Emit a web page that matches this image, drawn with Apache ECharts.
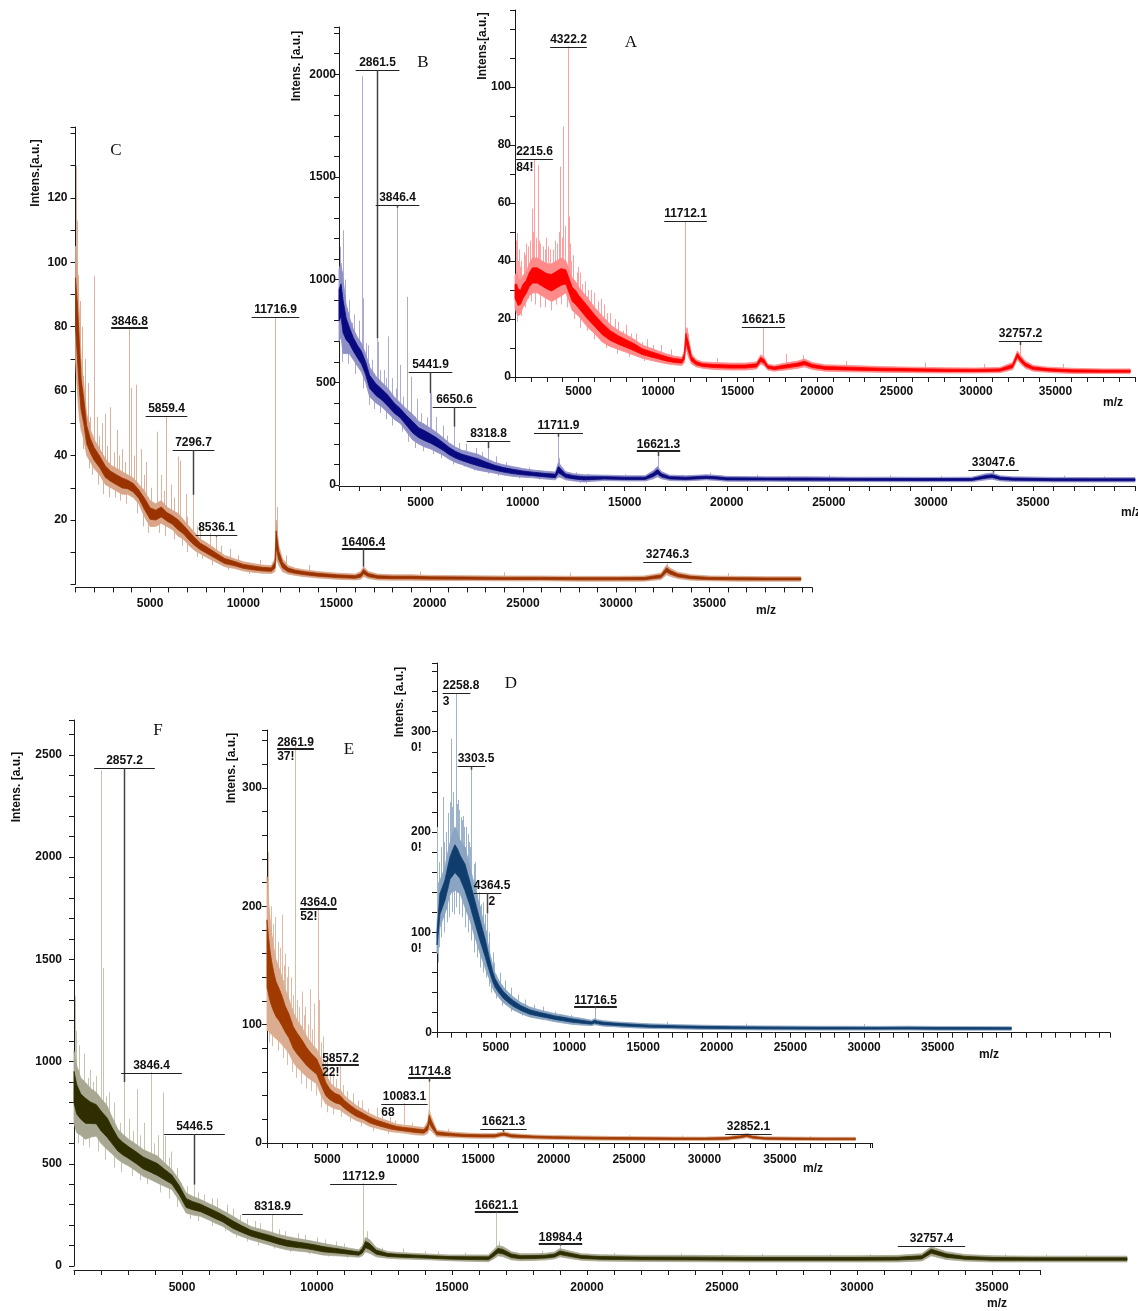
<!DOCTYPE html>
<html><head><meta charset="utf-8">
<script src="https://cdn.jsdelivr.net/npm/echarts@6/dist/echarts.min.js"></script>
<style>html,body{margin:0;padding:0;background:#fff}#chart{width:1138px;height:1311px}</style>
</head><body><div id="chart"></div><script>
// ---------------- DATA ----------------
// Panel C
const mzC = [1000,1100,1200,1300,1450,1600,1800,2000,2300,2600,2900,3200,3500,3800,4100,4400,4700,5000,5300,5600,5900,6200,6500,6800,7100,7400,7700,8000,8500,9000,9500,10000,10500,11000,11500,11700,11760,11900,12100,12400,12800,13300,14000,15000,16000,16300,16450,16700,17200,18000,19000,20000,22000,24000,26000,28000,30000,31500,32400,32700,32900,33300,34000,35000,36500,38000,39900];
const loC = [70,60,52,48,45,40,38,36,34,31,30,29,28,28,27,25,21,18,18,19,18,17,15,14,12,10.5,9.5,8.5,7,5.5,5,4.2,3.8,3.5,3.4,4,8,6,4,3.2,2.8,2.4,2,1.6,1.4,1.6,2.5,1.8,1.4,1.3,1.3,1.2,1.2,1.1,1.1,1,1,1,1.5,3,2.5,1.8,1.3,1.1,1,1,1];
const hiC = [105,98,85,70,62,53,48,45,42,39,37,36,35,34,33,31,29,26,25,26,24,23,22,20,18,16,14,13,11,9,8,7,6.5,6,5.8,8,20,12,8,5.8,5,4.5,4,3.5,3.2,4,5.5,4,3.2,3,3,2.8,2.7,2.6,2.6,2.5,2.5,2.6,3.5,6,5,3.8,3,2.6,2.5,2.4,2.4];
const spikesC = [[1030,130],[1060,113],[1090,104],[1150,96],[1250,88],[1365,80],[1500,70],[1680,62.5],[1993,95.7],[2150,52],[2400,50],[2580,53],[2850,55],[3245,48],[3500,42],[3846.8,80],[3880,57],[4000,61],[4250,62],[4500,42],[4800,38],[5390,47.4],[5600,34],[5859.4,52],[6100,31],[6520,39.7],[6620,38.4],[6900,28],[7296.7,27.8],[7700,19],[8200,16],[8536.1,14.8],[9300,11],[10900,7.6],[11716.9,83],[11800,24],[12300,9],[13500,6],[16406.4,5.5],[19500,4],[24000,3.8],[27500,3.6],[32746.3,6.5],[36000,3.5],
  [1800,52],[2250,46],[2700,43],[3050,41],[3350,40],[3650,38],[4150,40],[4650,34],[5050,30],[5750,29],[6300,27],[7000,21],[7500,18],[8800,12],[9700,9]];
const dipsC = [[1150,55],[1400,42],[1700,36],[1900,34],[2200,31],[2500,28],[2800,27],[3100,27],[3400,26],[3700,25],[4300,22],[4600,18],[4900,16],[5500,16],[5800,15],[6300,14],[6700,12],[7000,10],[7500,8.5],[7800,8],[8300,6],[9200,4.5],[10300,3.2]];
const annTextC = ['3846.8','5859.4','7296.7','8536.1','11716.9','16406.4','32746.3'];
const annPeakC = [80,52,27.8,14.8,83,5.5,6.5];
const annLevelC = [80,52.3,41.7,15.3,83,11.3,7];
const annSubC = ['','','','','','',''];

// Panel B
const mzB = [1000,1100,1200,1350,1500,1700,1900,2100,2300,2500,2800,3100,3400,3700,4000,4300,4600,4900,5200,5500,5800,6100,6400,6700,7000,7400,7800,8200,8600,9000,9500,10000,10500,11000,11600,11750,11900,12100,12500,13000,14000,15000,16000,16400,16600,16800,17200,18000,19000,19500,20000,22000,24000,26000,28000,30000,32000,32700,33000,33400,34000,36000,38000,40000];
const loB = [700,720,640,640,640,610,580,550,500,430,400,380,350,320,300,260,220,200,185,175,160,145,125,110,100,85,72,65,58,50,42,38,35,30,25,40,35,25,20,15,22,20,20,30,40,30,22,20,25,22,18,18,17,17,16,16,16,25,28,20,17,15,15,15];
const hiB = [1050,1080,1000,880,820,760,720,690,640,575,530,500,470,430,400,370,345,310,295,275,255,230,205,185,170,160,150,130,112,100,90,80,73,68,63,110,90,65,55,50,48,45,45,70,90,65,48,45,50,47,42,40,40,38,38,37,38,55,58,45,40,37,36,36];
const spikesB = [[1060,1160],[1215,1240],[1300,1000],[1500,900],[1750,830],[2000,800],[2105,1990],[2190,909],[2400,680],[2861.5,715],[2920,697],[3200,560],[3405,724],[3600,520],[3846.4,1350],[3975,584],[4330,916],[4545,527],[4800,420],[5441.9,447],[5520,447],[5730,332],[6100,290],[6650.6,284],[7200,200],[7700,180],[8318.8,179],[8700,140],[9660,89],[11711.9,235],[11800,131],[13200,55],[16621.3,141],[19200,60],[21500,50],[25000,48],[28000,47],[33047.6,60],[36500,45],
  [1400,860],[1650,790],[2300,690],[2600,610],[3000,560],[3300,520],[3800,470],[4150,430],[5000,350],[5300,330],[6300,240],[6900,205],[8000,160],[9200,110],[10300,85],[12600,62],[15000,52],[17800,50],[23000,45],[30500,44],[38500,42]];
const dipsB = [[1150,600],[1450,590],[1800,540],[2200,470],[2450,390],[2700,370],[3000,350],[3300,320],[3600,290],[4100,260],[4400,210],[4700,180],[5100,165],[5600,150],[6000,130],[6600,100],[7100,90],[7600,70],[8300,55],[8800,45],[9800,32],[10800,26],[12800,10],[13100,8]];
const annTextB = ['2861.5','3846.4','5441.9','6650.6','8318.8','11711.9','16621.3','33047.6'];
const annPeakB = [715,1350,447,284,179,235,141,60];
const annLevelB = [2019,1363,550,380,214,253,170,73];
const annSubB = ['','','','','','','',''];

// Panel A
const mzA = [1000,1100,1200,1350,1500,1700,1900,2100,2400,2700,3000,3300,3600,3900,4200,4400,4600,4800,5000,5300,5600,6000,6500,7000,7500,8000,8500,9000,9500,10000,10500,11000,11500,11650,11750,11900,12100,12400,12800,13500,14500,15500,16200,16450,16650,16900,17300,18000,18800,19200,19700,20500,22000,24000,26000,28000,30000,31500,32300,32600,32800,33100,33600,34500,36000,38000,39700];
const loA = [24,22,21,22,24,26,28,29,29,28,27,26,27,28,29,26,23,22,21,19,17,15,12,10.5,9.5,8.5,7.5,6.5,5.8,5.2,4.6,4.2,4,5,10,7,4.5,3.5,3,2.6,2.4,2.4,2.8,4.5,4,2.4,2,2.4,3,3.5,2.6,2,1.8,1.6,1.5,1.4,1.4,1.5,2.5,6,4.5,3,2,1.6,1.2,1.2,1.2];
const hiA = [35,36,34,33,35,36,39,41,41,40,39,39,40,41,40,37,34,33,31,29,27,24,21,18,16,14.5,13,11,10,9,8,7.2,6.8,9,17,14,8,6,5.2,5,4.8,4.8,5.2,7.6,7,4.5,4,4.8,5.5,6.2,5,4.2,4,3.6,3.4,3.2,3.1,3.3,5,9,7.5,5.5,4,3.4,3,2.8,2.8];
const spikesA = [[1050,47],[1105,49.6],[1170,40],[1300,38],[1600,42],[1800,45],[2045,58],[2215.6,74.8],[2300,48],[2420,73],[2600,46],[2880,44],[3100,45],[3400,44],[3650,46],[3825,72.5],[4030,86.3],[4322.2,114],[4390,55.3],[4550,40],[4870,36],[5200,32],[5600,30],[6200,26],[6800,22],[7276,20],[7800,16],[8320,15],[9000,12],[9700,11],[11712.1,53.6],[11800,17],[11900,15],[13700,6.5],[16621.5,16.9],[18050,8],[19100,7.5],[21800,5.5],[26800,5],[30500,4.5],[32757.2,11],[35500,4.5],
  [1250,44],[1400,40],[1550,43],[1700,46],[1950,47],[2150,50],[2500,47],[2750,45],[2950,48],[3200,44],[3500,47],[3750,50],[3950,48],[4150,52],[4450,46],[4650,42],[4950,38],[5100,36],[5400,33],[5800,30],[6000,29],[6400,27],[6600,25],[7000,22],[7500,19],[8000,18],[8600,15],[9300,13],[10200,11],[10800,9.5]];
const dipsA = [[1150,19],[1350,21],[1650,24],[2000,26],[2250,25],[2550,24],[2900,24],[3250,23],[3550,25],[3900,25],[4300,24],[4700,20],[5100,17],[5500,16],[6000,13],[6700,10],[7400,8],[8200,7],[9100,5.5]];
const annTextA = ['2215.6','4322.2','11712.1','16621.5','32757.2'];
const annPeakA = [74.8,114,53.6,16.9,11];
const annLevelA = [75.2,113.8,53.8,17.2,12.4];
const annSubA = ['84!','','','',''];

// Panel F
const mzF = [1000,1100,1250,1425,1600,1826,2000,2226,2400,2625,2800,3025,3300,3558,3800,4090,4350,4624,4900,5157,5400,5690,6000,6223,6500,6890,7200,7555,7900,8221,8550,8887,9200,9553,9900,10219,10550,10885,11200,11551,11680,11800,11950,12200,12617,13000,13550,14200,14880,15600,16350,16550,16700,16880,17200,17550,18000,18480,18800,19000,19300,19800,20500,22000,24000,26000,28000,30000,31500,32400,32750,32900,33300,34000,35000,36500,38000,40000];
const loF = [700,652,640,620,630,636,600,570,550,521,505,489,465,439,425,406,390,374,320,259,250,243,225,210,195,161,145,128,115,103,90,79,74,70,62,54,51,49,46,43,50,70,62,45,38,35,33,30,26,23,21,35,50,46,30,26,27,30,35,45,38,28,24,22,21,20,20,20,20,25,50,45,32,24,20,20,20,20];
const hiF = [1050,980,920,898,870,849,820,784,730,669,645,620,595,570,555,538,505,472,420,357,340,325,305,292,272,243,218,193,180,169,155,144,136,128,120,111,103,95,87,79,100,140,128,90,70,66,62,58,54,54,54,80,100,95,70,60,60,62,68,85,75,60,55,52,52,50,50,50,52,60,95,88,70,56,50,48,48,48];
const spikesF = [[1030,1320],[1090,1150],[1200,1080],[1380,1040],[1600,960],[1800,930],[2000,2425],[2070,1458],[2300,850],[2500,800],[2857.2,900],[3050,720],[3318,866],[3600,700],[3846.4,948],[4100,640],[4290,849],[4360,636],[4600,560],[4950,406],[5446.5,398],[5820,349],[6300,330],[6900,280],[7400,230],[7900,210],[8318.9,251],[8800,170],[9550,152],[10300,130],[11000,110],[11712.9,406],[11850,170],[13200,85],[14500,70],[16621.1,259],[16750,120],[18350,75],[18984.4,100],[21000,65],[23500,62],[26500,60],[29000,58],[32757.4,100],[35500,58],[38500,55],
  [1500,920],[1700,900],[2200,830],[2700,700],[3200,660],[3450,640],[3950,600],[4500,530],[4800,480],[5200,390],[5600,360],[6100,330],[6650,300],[7150,250],[7700,220],[8600,180],[9300,160],[10000,140],[10700,120],[12400,90],[14000,72],[15500,66],[20000,62],[25000,58],[30500,58],[37000,56]];
const dipsF = [[1150,600],[1350,590],[1550,580],[1900,560],[2150,520],[2500,480],[2750,460],[3150,440],[3450,420],[3700,400],[4200,360],[4500,330],[4800,290],[5300,230],[5600,220],[6100,195],[6600,170],[7000,140],[7400,120],[7800,100],[8400,85],[9000,68],[9700,58],[10400,46],[11100,40]];
const annTextF = ['2857.2','3846.4','5446.5','8318.9','11712.9','16621.1','18984.4','32757.4'];
const annPeakF = [900,948,398,251,406,259,100,100];
const annLevelF = [2436,944,646,254,401,267,112,100];
const annSubF = ['','','','','','','',''];

// Panel E
const mzE = [1000,1100,1200,1300,1450,1600,1800,2000,2200,2450,2745,3000,3300,3630,3950,4296,4627,4900,5180,5500,5840,6150,6500,6900,7385,7800,8270,8700,9155,9600,10040,10500,10925,11400,11650,11750,11900,12250,12800,13500,14240,15200,16100,16450,16700,17200,18660,20000,21975,24000,26000,28000,30000,31500,32400,32800,33200,34000,36000,38000,40000];
const loE = [95,95,93,92,90,88,86,83,80,76,68,64,60,56,53,50,39,33,31,29,28,25,22,19,17,14,12.4,11,9.6,9,8.4,7.5,6.8,6.5,8,12,10,5.3,5,4.6,4.2,4,4,5,5.5,4,3.4,3,2.5,2.4,2.3,2.2,2.2,2.4,3.5,4.5,3.2,2.5,2.2,2.1,2.1];
const hiE = [225,205,190,178,165,155,148,140,130,122,110,104,98,90,84,79,70,58,51,47,45,40,36,32,28,25,22,20,18,16,15,14.5,13.8,13,18,28,22,11,10,9,8.4,8,8,9,9.6,8,6.8,6.3,5.9,5.5,5.3,5.1,5,5.4,7,8,6.5,5.2,5,4.8,4.8];
const spikesE = [[1050,246],[1090,225],[1250,200],[1530,191],[1700,170],[1975,193],[2200,160],[2415,149],[2600,140],[2861.9,336],[3010,121],[3300,128],[3550,115],[3850,130],[4100,118],[4364,198.6],[4460,121],[4700,90],[5000,75],[5400,62],[5857.2,66],[6060,49],[6700,42],[7300,36],[8270,30],[9155,22],[10083.1,33.8],[10600,17],[11714.8,51.8],[11800,20],[13000,12],[16621.3,9.6],[20500,7],[25000,6.5],[28500,6.3],[32852.1,8.5],[37000,6],
  [1400,185],[1850,165],[2100,150],[2300,140],[2700,125],[3150,115],[3450,108],[3750,100],[4000,96],[4550,85],[4850,70],[5200,58],[5600,54],[6300,44],[7000,36],[7700,29],[8600,23],[9500,19]];
const dipsE = [[1150,85],[1350,82],[1700,78],[2050,72],[2350,66],[2650,60],[2950,55],[3250,50],[3600,46],[3900,44],[4250,40],[4600,30],[5000,26],[5400,24],[5900,22],[6500,18],[7200,14],[8000,10],[9000,7.5]];
const annTextE = ['2861.9','4364.0','5857.2','10083.1','11714.8','16621.3','32852.1'];
const annPeakE = [336,198.6,66,33.8,51.8,9.6,7];
const annLevelE = [334,198.6,66.8,33,55.8,11.8,7.6];
const annSubE = ['37!','52!','22!','68','','',''];

// Panel D
const mzD = [1000,1100,1200,1370,1540,1710,1880,2050,2220,2390,2560,2730,2900,3070,3240,3410,3580,3750,3920,4090,4260,4430,4600,4770,4940,5200,5500,5850,6180,6700,7310,7900,8445,9000,9575,10100,10700,11500,11700,11900,12300,12970,13800,14555,15500,16500,17500,19000,21000,23000,25000,27000,29000,31000,33000,35000,37000,40000];
const loD = [79,90,105,112,119,128,139,140,142,140,139,132,125,118,112,103,95,87,79,72,65,58,52,45,40,35,30,26,22.6,19,15.6,14,12.7,11,9.6,8.5,7.7,7,8,7.5,6.5,6,5.2,4.7,4.2,4,3.6,3.3,3,2.8,2.7,2.6,2.6,2.6,2.7,2.5,2.5,2.5];
const hiD = [109,130,152,158,165,178,189,198,205,200,192,188,185,175,165,155,145,135,125,115,105,92,79,68,59.5,52,45.5,40,35.6,30,25.6,23,21,19,17.6,16,14.6,12.5,14,13,12,11,10.2,9.6,8.8,8.5,8,7.5,7,6.8,6.6,6.4,6.4,6.3,6.5,6.2,6.1,6];
const spikesD = [[1000,205],[1060,150],[1150,170],[1300,185],[1430,235],[1600,200],[1770,219],[1950,293],[2100,240],[2258.8,338],[2445,232],[2600,215],[2785,216],[3000,205],[3150,190],[3303.5,262],[3400,145],[3550,170],[3700,132],[3925,102],[4100,130],[4364.5,119],[4620,72],[4800,80],[5300,60],[6000,45],[7000,33],[8200,26],[10080,17.6],[11716.5,24.3],[16600,11],[22000,9],[30000,8.5],
  [1250,175],[1500,190],[1850,230],[2000,225],[2350,228],[2500,222],[2700,212],[2850,205],[3100,198],[3250,185],[3480,168],[3650,150],[3850,140],[4000,128],[4250,118],[4500,100],[4900,70],[5600,52],[6500,38],[7600,28],[9000,21]];
const dipsD = [[1050,70],[1150,85],[1300,95],[1450,100],[1650,110],[1800,115],[2000,120],[2150,118],[2300,125],[2500,118],[2700,115],[2900,105],[3100,100],[3300,92],[3500,80],[3700,75],[3900,65],[4100,60],[4300,55],[4500,46],[4700,40],[5000,34],[5400,27],[6000,21],[6800,17]];
const annTextD = ['2258.8','3303.5','4364.5','11716.5'];
const annPeakD = [338,262,119,24.3];
const annLevelD = [339,266,139,26.6];
const annSubD = ['3','','2',''];

// ---------------- STYLE / LAYOUT ----------------
const FAM = 'Liberation Sans, Arial, sans-serif';
const FONT12 = 'bold 12px "Liberation Sans", Arial, sans-serif';
const underlined = new Set(['C:3846.8','C:16406.4','B:16621.3','F:16621.1','F:18984.4','E:2861.9','E:4364.0','E:5857.2','E:11714.8','D:11716.5']);
const subAtCenter = new Set(['D:4364.5']);
const CORE_INSET = 0.28;

const panels = [
  {id:'C', mz:mzC, lo:loC, hi:hiC, spikes:spikesC, dips:dipsC, annText:annTextC, annPeak:annPeakC, annLevel:annLevelC, annSub:annSubC,
   grid:{left:75.5, top:127, width:736.5, height:457.4}, xr:[1000,40500], yr:[0,142], yTick:10, yStep:20, yLabMax:120, zero:false,
   core:'#9a3300', edge:'#d9a488', spike:'#dcb29c', extra:2.5, yMargin:8, xMargin:10, xOffset:3},
  {id:'B', mz:mzB, lo:loB, hi:hiB, spikes:spikesB, dips:dipsB, annText:annTextB, annPeak:annPeakB, annLevel:annLevelB, annSub:annSubB,
   grid:{left:339, top:27, width:800.8, height:458}, xr:[1000,40000], yr:[0,2230], yTick:100, yStep:500, yLabMax:2000, zero:true,
   core:'#0a0a80', edge:'#8f8fc8', spike:'#ababd6', extra:3.5, yMargin:3, xMargin:11, xOffset:1},
  {id:'A', mz:mzA, lo:loA, hi:hiA, spikes:spikesA, dips:dipsA, annText:annTextA, annPeak:annPeakA, annLevel:annLevelA, annSub:annSubA,
   grid:{left:515, top:10, width:620.7, height:367}, xr:[1000,40000], yr:[0,126.5], yTick:10, yStep:20, yLabMax:100, zero:true,
   core:'#ff0000', edge:'#ff8a8a', spike:'#ffa0a0', extra:0, yMargin:4, xMargin:9, xOffset:0},
  {id:'F', mz:mzF, lo:loF, hi:hiF, spikes:spikesF, dips:dipsF, annText:annTextF, annPeak:annPeakF, annLevel:annLevelF, annSub:annSubF,
   grid:{left:74, top:720, width:966.6, height:546}, xr:[1000,36800], yr:[0,2671], yTick:100, yStep:500, yLabMax:2500, zero:true,
   core:'#2e2e00', edge:'#a8a892', spike:'#c4c4b0', extra:12, yMargin:12, xMargin:12, xOffset:4},
  {id:'E', mz:mzE, lo:loE, hi:hiE, spikes:spikesE, dips:dipsE, annText:annTextE, annPeak:annPeakE, annLevel:annLevelE, annSub:annSubE,
   grid:{left:267, top:730, width:605, height:413}, xr:[1000,41100], yr:[0,349], yTick:20, yStep:100, yLabMax:300, zero:true,
   core:'#a03a00', edge:'#dcac90', spike:'#e2baa4', extra:1.5, yMargin:5, xMargin:11, xOffset:0},
  {id:'D', mz:mzD, lo:loD, hi:hiD, spikes:spikesD, dips:dipsD, annText:annTextD, annPeak:annPeakD, annLevel:annLevelD, annSub:annSubD,
   grid:{left:437, top:663, width:673, height:369.7}, xr:[1000,46700], yr:[0,368.5], yTick:20, yStep:100, yLabMax:300, zero:true,
   core:'#0f3d6e', edge:'#8aa4c2', spike:'#9db2cb', extra:-4.5, yMargin:5, xMargin:9, xOffset:0, richY:true}
];

const ctx = document.createElement('canvas').getContext('2d');
function measure(t){ ctx.font = FONT12; return ctx.measureText(t).width; }
// envelope value at a given m/z (only used as the anchor of a drawn peak/dip stroke)
function envAt(mzArr, vals, m){
  if (m <= mzArr[0]) return vals[0];
  for (let j = 0; j < mzArr.length - 1; j++) {
    if (m <= mzArr[j+1]) { const t = (m - mzArr[j]) / (mzArr[j+1] - mzArr[j]); return vals[j] + t * (vals[j+1] - vals[j]); }
  }
  return vals[vals.length - 1];
}

const grids = [], xAxes = [], yAxes = [], series = [];
const axisColor = '#1a1a1a';
panels.forEach((p, gi) => {
  grids.push(Object.assign({containLabel:false}, p.grid));
  xAxes.push({
    gridIndex: gi, type:'value', min:p.xr[0], max:p.xr[1], interval:1000, offset:p.xOffset,
    axisLine:{onZero:false, lineStyle:{color:axisColor, width:1}},
    axisTick:{length:5, lineStyle:{color:axisColor}},
    splitLine:{show:false},
    axisLabel:{margin:p.xMargin, color:'#111', fontFamily:FAM, fontWeight:'bold', fontSize:12,
      formatter: v => (v % 5000 === 0 && v >= 5000 && v <= 35000) ? String(v) : ''}
  });
  const yl = {margin:p.yMargin, color:'#111', fontFamily:FAM, fontWeight:'bold', fontSize:12};
  if (p.richY) {
    yl.formatter = v => {
      if (v === 0) return '{z|0}';
      if (v % p.yStep === 0 && v <= p.yLabMax) return '{s| }\n{a|' + v + '}\n{b|0!}';
      return '';
    };
    const rs = {fontFamily:FAM, fontWeight:'bold', fontSize:12, color:'#111', lineHeight:16};
    yl.rich = {s:Object.assign({}, rs), a:Object.assign({width:21, align:'left'}, rs), b:Object.assign({width:21, align:'left'}, rs), z:Object.assign({}, rs)};
  } else {
    yl.formatter = v => {
      if (v === 0) return p.zero ? '0' : '';
      return (v % p.yStep === 0 && v <= p.yLabMax) ? String(v) : '';
    };
  }
  yAxes.push({
    gridIndex: gi, type:'value', min:p.yr[0], max:p.yr[1], interval:p.yTick,
    axisLine:{show:true, onZero:false, lineStyle:{color:axisColor, width:1}},
    axisTick:{show:true, length:5, lineStyle:{color:axisColor}},
    splitLine:{show:false}, axisLabel:yl
  });
  // spikes (peaks) rising out of the noise band
  series.push({
    type:'custom', xAxisIndex:gi, yAxisIndex:gi, z:1, clip:false, silent:true,
    data:p.spikes,
    renderItem:(params, api) => {
      const m = api.value(0);
      const a = api.coord([m, envAt(p.mz, p.lo, m)]);
      const b = api.coord([m, api.value(1)]);
      const x = Math.round(a[0]) + 0.5;
      return {type:'line', shape:{x1:x, y1:a[1], x2:x, y2:b[1]}, style:{stroke:p.spike, lineWidth:1}};
    }
  });
  // dips (noise excursions below the band)
  series.push({
    type:'custom', xAxisIndex:gi, yAxisIndex:gi, z:1, clip:false, silent:true,
    data:p.dips,
    renderItem:(params, api) => {
      const m = api.value(0);
      const a = api.coord([m, envAt(p.mz, p.hi, m)]);
      const b = api.coord([m, api.value(1)]);
      const x = Math.round(a[0]) + 0.5;
      return {type:'line', shape:{x1:x, y1:a[1], x2:x, y2:b[1]}, style:{stroke:p.spike, lineWidth:1}};
    }
  });
  // noise band: light outer envelope with a dark core
  series.push({
    type:'custom', xAxisIndex:gi, yAxisIndex:gi, z:2, clip:false, silent:true,
    data:p.mz.map((m,i) => [m, p.lo[i], p.hi[i]]),
    renderItem:(params, api) => {
      if (params.dataIndex !== 0) return null;
      const up = [], lw = [], cu = [], cl = [];
      for (let j = 0; j < p.mz.length; j++) {
        const d = p.hi[j] - p.lo[j];
        up.push(api.coord([p.mz[j], p.hi[j]]));
        lw.push(api.coord([p.mz[j], p.lo[j]]));
        cu.push(api.coord([p.mz[j], p.hi[j] - CORE_INSET * d]));
        cl.push(api.coord([p.mz[j], p.lo[j] + CORE_INSET * d]));
      }
      return {type:'group', children:[
        {type:'polygon', shape:{points:up.concat(lw.slice().reverse())}, style:{fill:p.edge, stroke:p.edge, lineWidth:0.8}},
        {type:'polygon', shape:{points:cu.concat(cl.slice().reverse())}, style:{fill:p.core, stroke:p.core, lineWidth:0.8}}
      ]};
    }
  });
  // peak annotations
  series.push({
    type:'custom', xAxisIndex:gi, yAxisIndex:gi, z:5, clip:false, silent:true,
    data:p.annText.map((t,i) => [parseFloat(t), p.annPeak[i], p.annLevel[i]]),
    renderItem:(params, api) => {
      const i = params.dataIndex;
      const text = p.annText[i];
      const mz = api.value(0);
      const pL = api.coord([mz, api.value(2)]);
      const pP = api.coord([mz, api.value(1)]);
      const x = Math.round(pL[0]) + 0.5, yL = Math.round(pL[1]) + 0.5;
      const w = measure(text);
      const under = underlined.has(p.id + ':' + text);
      const lwid = under ? w : w + 2 * p.extra;
      const left = x - lwid / 2;
      const textLeft = x - Math.min(lwid, w) / 2;
      const ch = [];
      ch.push({type:'text', style:{text:text, x:textLeft, y:yL - (under ? 0 : 2), align:'left', verticalAlign:'bottom', font:FONT12, fill:'#111'}});
      ch.push({type:'line', shape:{x1:left, y1:under ? yL + 0.5 : yL, x2:left + lwid, y2:under ? yL + 0.5 : yL}, style:{stroke:'#222', lineWidth:under ? 2 : 1}});
      if (pP[1] > yL + 1) ch.push({type:'line', shape:{x1:x, y1:yL, x2:x, y2:pP[1]}, style:{stroke:'#444', lineWidth:1.5}});
      const sub = p.annSub[i];
      if (sub) {
        const sx = subAtCenter.has(p.id + ':' + text) ? x + 1 : left;
        ch.push({type:'text', style:{text:sub, x:sx, y:yL + 2, align:'left', verticalAlign:'top', font:FONT12, fill:'#111'}});
      }
      return {type:'group', children:ch};
    }
  });
});

function gtext(x, y, text, font, rot){
  return {type:'text', x:x, y:y, rotation:rot || 0, z:10, silent:true,
    style:{text:text, font:font, fill:'#111', align:'center', verticalAlign:'middle'}};
}
const TITLE = 'bold 12px "Liberation Sans", Arial, sans-serif';
const LETTER = '17px "Liberation Serif", "Times New Roman", serif';
const R = Math.PI / 2;
const graphic = [
  gtext(36, 173, 'Intens.[a.u.]', TITLE, R),
  gtext(297, 66, 'Intens. [a.u.]', TITLE, R),
  gtext(483, 46, 'Intens.[a.u.]', TITLE, R),
  gtext(17, 787, 'Intens. [a.u.]', TITLE, R),
  gtext(232, 768, 'Intens. [a.u.]', TITLE, R),
  gtext(400, 702, 'Intens. [a.u.]', TITLE, R),
  gtext(766, 611, 'm/z', TITLE), gtext(1113, 403, 'm/z', TITLE), gtext(1131, 513, 'm/z', TITLE),
  gtext(813, 1169, 'm/z', TITLE), gtext(989, 1055, 'm/z', TITLE), gtext(997, 1304, 'm/z', TITLE),
  gtext(116, 151, 'C', LETTER), gtext(423, 63, 'B', LETTER), gtext(631, 43, 'A', LETTER),
  gtext(158, 731, 'F', LETTER), gtext(349, 750, 'E', LETTER), gtext(511, 684, 'D', LETTER)
];

const chart = echarts.init(document.getElementById('chart'), null, {renderer:'canvas'});
chart.setOption({
  animation:false, backgroundColor:'#ffffff',
  grid:grids, xAxis:xAxes, yAxis:yAxes, series:series, graphic:graphic
});
</script></body></html>
